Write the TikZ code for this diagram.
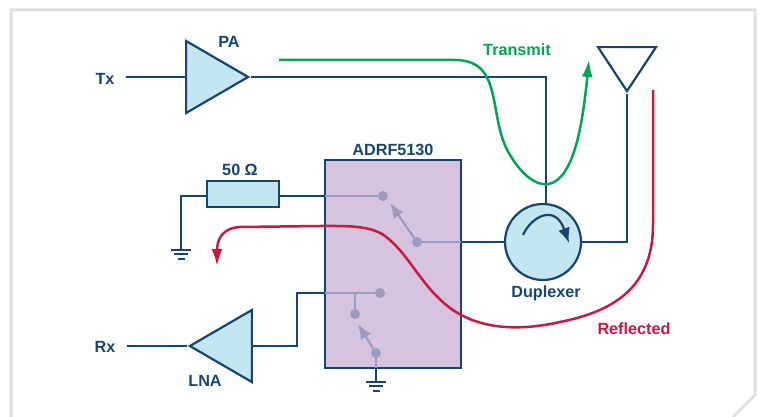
\documentclass[tikz,border=0pt]{standalone}
\usepackage{fontspec}
\setmainfont{Liberation Sans}
\usetikzlibrary{arrows.meta,calc,positioning,shapes.geometric}
\definecolor{cwire}{RGB}{20,70,115}
\definecolor{cfill}{RGB}{195,230,240}
\definecolor{cchip}{RGB}{214,195,222}
\definecolor{csw}{RGB}{158,155,192}
\definecolor{cgreen}{RGB}{0,166,81}
\definecolor{cred}{RGB}{200,25,65}
\definecolor{cframe}{RGB}{224,224,224}
\tikzset{
  wire/.style={draw=cwire,line width=2.2pt},
  amp/.style={isosceles triangle,isosceles triangle stretches,draw=cwire,fill=cfill,
    line width=2.2pt,inner sep=0pt,minimum width=72pt,minimum height=62pt},
  lab/.style={font=\fontsize{16.2}{18}\selectfont\bfseries,text=cwire,inner sep=0pt},
  swline/.style={draw=csw,line width=2.2pt},
  swdot/.style={circle,fill=csw,draw=none,inner sep=0pt,minimum size=10pt},
  swarr/.style={swline,-{Latex[length=15pt,width=12pt]}},
  gnd/.style={draw=cwire,line width=1.8pt},
  flow/.style={line width=2.5pt,-{Latex[length=17pt,width=11pt]}}
}
\newcommand{\gndsym}[1]{%
  \draw[gnd] ($(#1)+(-10,0)$) -- ($(#1)+(10,0)$);
  \draw[gnd] ($(#1)+(-7,4.3)$) -- ($(#1)+(7,4.3)$);
  \draw[gnd] ($(#1)+(-3.5,8.6)$) -- ($(#1)+(3.5,8.6)$);
}
\begin{document}
\begin{tikzpicture}[x=1pt,y=-1pt]
  \useasboundingbox (0,0) rectangle (763,417);
  % frame
  \draw[cframe,line width=3pt] (11,417) -- (11,10) -- (755,10) -- (755,395) -- (733,417);
  % blocks
  \node[amp,anchor=apex] (pa) at (251,77) {};
  \node[amp,shape border rotate=180,anchor=apex] (lna) at (187,346) {};
  \node[draw=cwire,fill=cfill,line width=2.2pt,minimum width=72pt,minimum height=26pt,inner sep=0pt] (load) at (243,194) {};
  \node[draw=cwire,fill=cchip,line width=2.6pt,minimum width=136pt,minimum height=208pt,inner sep=0pt] (chip) at (393,264) {};
  \node[circle,draw=cwire,fill=cfill,line width=2.2pt,minimum size=76pt,inner sep=0pt] (dup) at (543,242) {};
  \node[isosceles triangle,isosceles triangle stretches,shape border rotate=-90,draw=cwire,
    line width=2.2pt,inner sep=0pt,minimum width=58pt,minimum height=44pt,anchor=apex] (ant) at (627,94) {};
  % free ends
  \coordinate (txin) at (126,77);
  \coordinate (rxout) at (127,346);
  \coordinate (g1) at (181,250);
  \coordinate (g2) at (376,382);
  \coordinate (p1) at (325,196);
  \coordinate (p2) at (461,242);
  \coordinate (p3) at (325,293);
  \coordinate (p4) at (376,368);
  % switch contacts
  \node[swdot] (s1) at (383,196) {};
  \node[swdot] (s2) at (417,242) {};
  \node[swdot] (s3) at (380,293) {};
  \node[swdot] (s4) at (355,314) {};
  \node[swdot] (s5) at (376,353) {};
  \coordinate (s3t) at (355,293);
  % wires
  \draw[wire] (txin) -- (pa.lower side);
  \draw[wire] (pa.apex) -- (546,77) -- (546,204);
  \draw[wire] (dup.east) -- (627,242) -- (ant.apex);
  \draw[wire] (p2) -- (dup.west);
  \draw[wire] (p1) -- (load.east |- p1);
  \draw[wire] (load.west |- p1) -- (g1 |- p1) -- (g1);
  \draw[wire] (p3) -- (297,293) -- (297,346) -- (lna.lower side);
  \draw[wire] (lna.apex) -- (rxout);
  \draw[wire] (p4) -- (g2);
  \gndsym{g1}
  \gndsym{g2}
  % switch
  \draw[swline] (p1) -- (s1);
  \draw[swline] (s2) -- (p2);
  \draw[swarr] (s2) -- (390,203);
  \draw[swline] (p3) -- (s3);
  \draw[swline] (s3t) -- (s4);
  \draw[swarr] (s5) -- (358,324);
  \draw[swline] (s5) -- (p4);
  % circulator arrow
  \draw[cwire,line width=2.2pt,-{Latex[length=15pt,width=12pt]}] (523,235) .. controls (531,217) and (555,203) .. (569,243);
  % signal paths
  \draw[flow,cgreen] (279,60) -- (455,60) .. controls (505,60) and (487,118) .. (510,155)
    .. controls (525,180) and (540,186) .. (549,184)
    .. controls (575,178) and (583,120) .. (589,60);
  \draw[flow,cred] (653,90) -- (653,225) .. controls (653,290) and (610,312) .. (560,322)
    .. controls (520,331) and (480,330) .. (450,308)
    .. controls (420,285) and (410,255) .. (385,236)
    .. controls (370,225) and (345,226) .. (320,226)
    -- (240,227) .. controls (222,228) and (217,240) .. (217,266);
  % labels
  \node[lab] (tx) at (105,79) {Tx};
  \node[lab] (rx) at (105,347) {Rx};
  \node[lab] (palab) at (229,42) {PA};
  \node[lab] (lnalab) at (205,381) {LNA};
  \node[lab] (loadlab) at (240,170) {50 Ω};
  \node[lab] (chiplab) at (393,150) {ADRF5130};
  \node[lab] (duplab) at (546,293) {Duplexer};
  \node[lab,text=cgreen] (txlab) at (517,50) {Transmit};
  \node[lab,text=cred] (rflab) at (634,329) {Reflected};
\end{tikzpicture}
\end{document}
